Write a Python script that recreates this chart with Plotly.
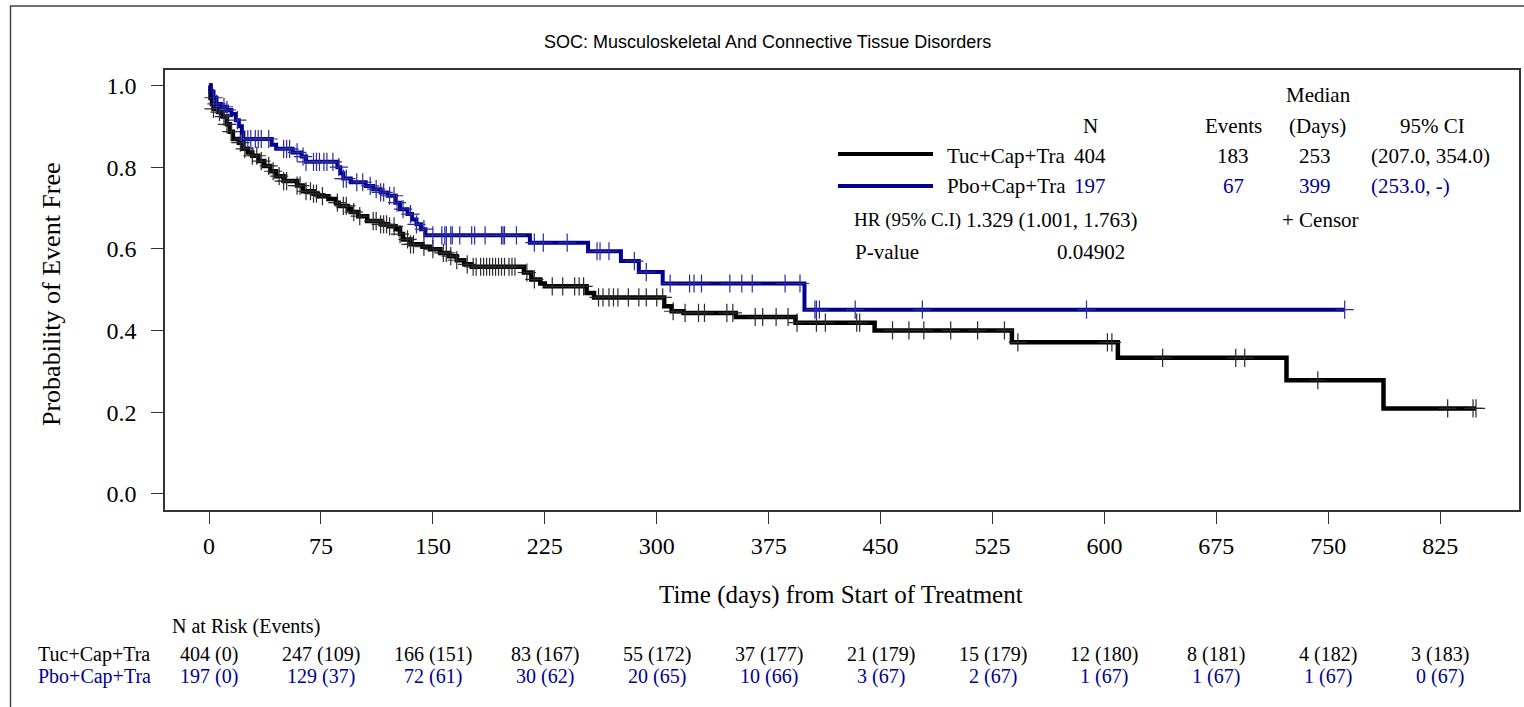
import numpy as np
import plotly.graph_objects as go

# ---- Kaplan-Meier estimates (days, survival) ----
tuc_t = [0, 1, 2, 3, 6, 9, 12, 14, 16, 20, 23, 26, 29, 33, 37, 41, 45, 50, 59, 63,
         70, 73, 80, 85, 87, 93, 95, 100, 106, 115, 120, 125, 128, 130, 135, 143,
         148, 155, 161, 166, 171, 176, 211, 216, 222, 225, 253, 258, 305, 310, 318,
         353, 393, 446, 538, 609, 722, 787]
tuc_s = [1.0, 0.97, 0.955, 0.943, 0.935, 0.924, 0.905, 0.887, 0.869, 0.86, 0.845,
         0.836, 0.828, 0.815, 0.803, 0.79, 0.778, 0.766, 0.755, 0.741, 0.735, 0.729,
         0.722, 0.713, 0.705, 0.697, 0.69, 0.68, 0.668, 0.66, 0.655, 0.648, 0.636,
         0.623, 0.611, 0.605, 0.599, 0.59, 0.582, 0.572, 0.562, 0.556, 0.542, 0.525,
         0.515, 0.508, 0.492, 0.481, 0.459, 0.447, 0.443, 0.433, 0.419, 0.40, 0.371,
         0.333, 0.278, 0.209]
tuc_cens = [3, 7, 10, 12, 15, 21, 24, 29, 32, 35, 40, 43, 47, 50, 52, 59, 61, 65, 68,
            70, 72, 76, 86, 90, 92, 97, 101, 110, 112, 115, 117, 119, 121, 124, 128,
            133, 135, 137, 144, 150, 157, 159, 162, 166, 173, 177, 179, 182, 184, 186,
            188, 190, 192, 194, 196, 198, 201, 203, 205, 213, 218, 230, 237, 245, 248,
            251, 261, 264, 268, 271, 274, 281, 288, 293, 300, 304, 311, 319, 328, 332,
            347, 351, 366, 371, 380, 388, 394, 407, 413, 434, 436, 458, 469, 479, 497,
            515, 533, 542, 602, 605, 639, 688, 694, 743, 830, 847, 849]

pbo_t = [0, 1, 3, 5, 8, 12, 15, 18, 20, 22, 23, 42, 45, 56, 62, 65, 86, 88, 90, 95,
         105, 110, 115, 120, 125, 128, 133, 136, 139, 142, 145, 215, 254, 276, 288,
         304, 399]
pbo_s = [1.0, 0.985, 0.97, 0.955, 0.948, 0.94, 0.93, 0.915, 0.90, 0.885, 0.869,
         0.855, 0.845, 0.836, 0.826, 0.813, 0.80, 0.785, 0.772, 0.763, 0.754, 0.746,
         0.738, 0.73, 0.713, 0.697, 0.685, 0.672, 0.66, 0.648, 0.633, 0.615, 0.594,
         0.570, 0.543, 0.515, 0.451]
pbo_cens = [3, 5, 10, 12, 19, 23, 26, 28, 31, 33, 35, 40, 50, 52, 54, 59, 63, 65, 70,
            72, 74, 77, 79, 83, 87, 90, 92, 99, 103, 108, 112, 115, 117, 121, 124, 126,
            130, 135, 139, 144, 150, 156, 158, 159, 162, 163, 168, 176, 178, 185, 196,
            197, 198, 206, 218, 224, 240, 260, 262, 268, 285, 293, 309, 322, 325, 330,
            349, 357, 364, 386, 396, 406, 407, 409, 433, 478, 588, 761]

# ---- number at risk table ----
risk_days = [0, 75, 150, 225, 300, 375, 450, 525, 600, 675, 750, 825]
tuc_risk = [404, 247, 166, 83, 55, 37, 21, 15, 12, 8, 4, 3]
tuc_events = [0, 109, 151, 167, 172, 177, 179, 179, 180, 181, 182, 183]
pbo_risk = [197, 129, 72, 30, 20, 10, 3, 2, 1, 1, 1, 0]
pbo_events = [0, 37, 61, 62, 65, 66, 67, 67, 67, 67, 67, 67]

arm_names = ["Tuc+Cap+Tra", "Pbo+Cap+Tra"]
arm_n = [404, 197]
arm_events = [183, 67]
arm_median = [253, 399]
arm_ci = ["(207.0, 354.0)", "(253.0, -)"]
hr_text = "1.329 (1.001, 1.763)"
p_text = "0.04902"

y_ticks = [0.0, 0.2, 0.4, 0.6, 0.8, 1.0]

BLACK = "#000000"
BLUE = "#00008f"
SERIF = "Liberation Serif"
W, H = 1524, 707


def px(x):
    return x / W


def py(y):
    return 1 - y / H


def km_curve(t, s, cens):
    t = np.asarray(t, float)
    s = np.asarray(s, float)
    c = np.asarray(cens, float)
    end = max(t.max(), c.max())
    xs = np.append(t, end)
    ys = np.append(s, s[-1])
    idx = np.searchsorted(t, c, side="right") - 1
    return xs, ys, c, s[idx]


fig = go.Figure()
for t, s, c, col, lw, mcol in [
    (tuc_t, tuc_s, tuc_cens, BLACK, 4.5, "#2a2a2a"),
    (pbo_t, pbo_s, pbo_cens, BLUE, 4, "#2a2aa0"),
]:
    xs, ys, cx, cy = km_curve(t, s, c)
    fig.add_trace(go.Scatter(x=xs, y=ys, mode="lines", line=dict(color=col, width=lw, shape="hv"),
                             showlegend=False, hoverinfo="skip"))
    fig.add_trace(go.Scatter(x=cx, y=cy, mode="markers",
                             marker=dict(symbol="cross-thin", size=13,
                                         line=dict(color=mcol, width=1.2)),
                             showlegend=False, hoverinfo="skip"))

axis_common = dict(showgrid=False, zeroline=False, showline=True, mirror=True,
                   linecolor="#333333", linewidth=1.5, ticks="outside", ticklen=12,
                   tickwidth=1, tickcolor="#333333",
                   tickfont=dict(family=SERIF, size=24, color=BLACK))

fig.update_layout(
    width=W, height=H,
    margin=dict(l=0, r=0, t=0, b=0),
    paper_bgcolor="white", plot_bgcolor="white",
    xaxis=dict(domain=[px(165), px(1519)], range=[-29.5, 877.8],
               tickvals=risk_days, ticklabelstandoff=1, **axis_common),
    yaxis=dict(domain=[py(510), py(70)], range=[-0.0398, 1.038],
               tickvals=y_ticks, tickformat=".1f", ticklabelstandoff=10, **axis_common),
)

ann = []


def text(x, y, s, size=21, color=BLACK, anchor="center", family=SERIF, angle=0):
    ann.append(dict(x=px(x), y=py(y), xref="paper", yref="paper", text=s, showarrow=False,
                    xanchor=anchor, yanchor="middle", textangle=angle,
                    font=dict(family=family, size=size, color=color)))


text(767, 42, "SOC: Musculoskeletal And Connective Tissue Disorders", size=18,
     family="Liberation Sans")
text(52, 294, "Probability of Event Free", size=26, angle=-90)
text(841, 595, "Time (days) from Start of Treatment", size=25)

# summary table inside the plot
text(1318, 95, "Median")
text(1090, 126, "N")
text(1233, 126, "Events")
text(1317, 126, "(Days)")
text(1432, 126, "95% CI")
row_y = [156, 186]
swatch_y = [154, 186]
colors = [BLACK, BLUE]
shapes = []
for i in range(2):
    y = row_y[i]
    shapes.append(dict(type="line", xref="paper", yref="paper", x0=px(838), x1=px(933),
                       y0=py(swatch_y[i]), y1=py(swatch_y[i]),
                       line=dict(color=colors[i], width=4)))
    text(945, y, arm_names[i], anchor="left")
    text(1090, y, str(arm_n[i]), color=colors[i])
    text(1233, y, str(arm_events[i]), color=colors[i])
    text(1315, y, str(arm_median[i]), color=colors[i])
    text(1369, y, arm_ci[i], color=colors[i], anchor="left")
text(852, 220, "HR (95% C.I)", size=19, anchor="left")
text(964, 220, hr_text, anchor="left")
text(1320, 220, "+ Censor")
text(853, 252, "P-value", anchor="left")
text(1091, 252, p_text)

# number at risk
text(170, 626, "N at Risk (Events)", size=20, anchor="left")
risk_rows = [(tuc_risk, tuc_events, 654), (pbo_risk, pbo_events, 676)]
for i, (nr, ev, y) in enumerate(risk_rows):
    text(36, y, arm_names[i], size=20, color=colors[i], anchor="left")
    for d, n, e in zip(risk_days, nr, ev):
        ann.append(dict(x=d, y=py(y), xref="x", yref="paper", text=f"{n} ({e})",
                        showarrow=False, xanchor="center", yanchor="middle",
                        font=dict(family=SERIF, size=20, color=colors[i])))

# outer frame (left and top edges)
shapes.append(dict(type="line", xref="paper", yref="paper", x0=px(10.5), x1=px(10.5),
                   y0=py(6), y1=0, line=dict(color="#444444", width=1.5)))
shapes.append(dict(type="line", xref="paper", yref="paper", x0=px(10), x1=1,
                   y0=py(6), y1=py(6), line=dict(color="#444444", width=1.5)))

fig.update_layout(annotations=ann, shapes=shapes)
fig.write_html("out.html")
